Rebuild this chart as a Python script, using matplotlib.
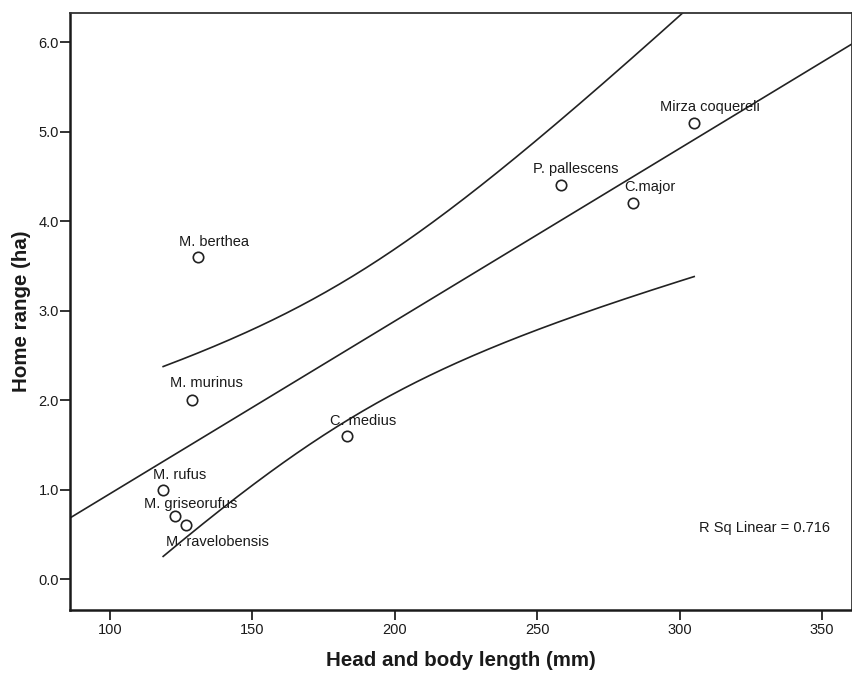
import numpy as np
import matplotlib
matplotlib.use("Agg")
import matplotlib.pyplot as plt

plt.rcParams['font.family'] = ['Liberation Sans', 'DejaVu Sans']

# Species, head-and-body length (mm) and home range (ha)
species = ["M. berthea", "M. murinus", "M. rufus", "M. griseorufus", "M. ravelobensis",
           "C. medius", "P. pallescens", "C.major", "Mirza coquereli"]
body_length = [130.8, 128.8, 118.7, 122.7, 126.8, 183.1, 258.5, 283.5, 305.1]
home_range = [3.6, 2.0, 1.0, 0.7, 0.6, 1.6, 4.4, 4.2, 5.1]

x_ticks = [100, 150, 200, 250, 300, 350]
y_ticks = [0.0, 1.0, 2.0, 3.0, 4.0, 5.0, 6.0]

# label offsets in pixels (dx, dy) from each point
label_offsets = [(16, 15), (15, 17), (16, 15), (16, 12), (31, -17),
                 (17, 15), (14, 16), (17, 16), (16, 16)]

x = np.array(body_length)
y = np.array(home_range)
n = len(x)

# ordinary least squares fit with 95% confidence band for the mean
slope, intercept = np.polyfit(x, y, 1)
resid = y - (intercept + slope * x)
r2 = 1 - np.sum(resid ** 2) / np.sum((y - y.mean()) ** 2)
s = np.sqrt(np.sum(resid ** 2) / (n - 2))
sxx = np.sum((x - x.mean()) ** 2)
t_crit = 2.3646  # t(0.975, df=7)

xlim = (86.0, 360.5)
ylim = (-0.34, 6.33)

fig = plt.figure(figsize=(8.53, 6.76), dpi=100)
ax = fig.add_axes([70 / 853, 1 - 609.5 / 676, 782 / 853, 597 / 676])

xf = np.linspace(xlim[0], xlim[1], 200)
ax.plot(xf, intercept + slope * xf, color="#222222", lw=1.2)

xb = np.linspace(x.min(), x.max(), 200)
yb = intercept + slope * xb
half = t_crit * s * np.sqrt(1 / n + (xb - x.mean()) ** 2 / sxx)
ax.plot(xb, yb + half, color="#222222", lw=1.2)
ax.plot(xb, yb - half, color="#222222", lw=1.2)

ax.plot(x, y, linestyle="none", marker="o", markersize=7.5, markerfacecolor="white",
        markeredgecolor="#222222", markeredgewidth=1.2, zorder=3)

for name, xi, yi, (dx, dy) in zip(species, x, y, label_offsets):
    ax.annotate(name, (xi, yi), xytext=(dx, dy), textcoords="offset pixels",
                ha="center", va="center", fontsize=10.5, color="#1a1a1a")

ax.text(0.972, 0.136, f"R Sq Linear = {r2:.3f}", transform=ax.transAxes,
        ha="right", va="center", fontsize=10.5, color="#1a1a1a")

ax.set_xlim(*xlim)
ax.set_ylim(*ylim)
ax.set_xticks(x_ticks)
ax.set_xticklabels([str(v) for v in x_ticks])
ax.set_yticks(y_ticks)
ax.set_yticklabels([f"{v:.1f}" for v in y_ticks])
ax.tick_params(axis="both", direction="out", length=7, width=1.3, color="#222222",
               labelsize=10.5, labelcolor="#1a1a1a")
ax.tick_params(axis="x", pad=3)
ax.tick_params(axis="y", pad=1)

for side in ["left", "bottom"]:
    ax.spines[side].set_linewidth(1.8)
    ax.spines[side].set_color("#1a1a1a")
for side in ["top", "right"]:
    ax.spines[side].set_linewidth(1.3)
    ax.spines[side].set_color("#333333")

ax.set_xlabel("Head and body length (mm)", fontsize=14.8, fontweight="bold",
              color="#1a1a1a", labelpad=10)
ax.set_ylabel("Home range (ha)", fontsize=14.8, fontweight="bold",
              color="#1a1a1a", labelpad=5)

fig.savefig("out.png", dpi=100, facecolor="white")
